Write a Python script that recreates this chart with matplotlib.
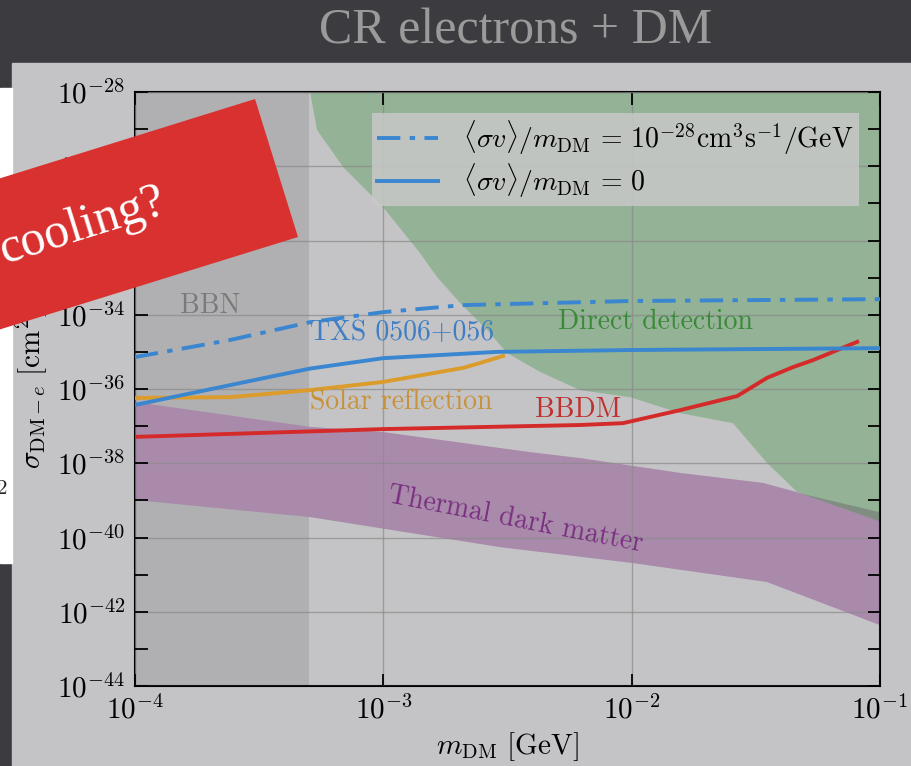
import numpy as np
import matplotlib
matplotlib.use("Agg")
import matplotlib.pyplot as plt
from matplotlib.patches import Rectangle, Polygon
from matplotlib.ticker import FixedLocator, NullLocator, NullFormatter, FuncFormatter

plt.rcParams["mathtext.fontset"] = "cm"

# ---- data (log10 of m_DM in GeV, log10 of sigma_DM-e in cm^2) ----
# Direct detection excluded region: lower boundary
dd_logm = [-3.295, -3.267, -3.162, -3.001, -2.852, -2.784, -2.691, -2.582, -2.502,
           -2.369, -2.208, -2.006, -1.805, -1.592, -1.455, -1.334, -1.0]
dd_logsig = [-28.0, -29.02, -30.02, -31.10, -32.34, -32.98, -33.68, -34.41, -35.03,
             -35.54, -36.03, -36.22, -36.65, -36.92, -37.99, -38.77, -39.56]

# Thermal dark matter band
thermal_up_logm = [-4.0, -3.295, -3.001, -2.409, -2.208, -1.805, -1.471, -1.322, -1.0]
thermal_up_logsig = [-36.35, -37.02, -37.16, -37.70, -37.86, -38.26, -38.53, -38.80, -39.31]
thermal_lo_logm = [-4.0, -3.295, -2.530, -1.994, -1.455, -1.0]
thermal_lo_logsig = [-38.99, -39.45, -40.26, -40.69, -41.20, -42.36]

# TXS 0506+056 bounds
txs_ann_logm = [-4.0, -3.617, -3.295, -3.001, -2.678, -2.006, -1.0]
txs_ann_logsig = [-35.14, -34.68, -34.20, -33.93, -33.74, -33.63, -33.58]
txs_zero_logm = [-4.0, -3.52, -3.295, -3.001, -2.542, -2.006, -1.0]
txs_zero_logsig = [-36.43, -35.76, -35.45, -35.17, -35.00, -34.95, -34.90]

# Solar reflection
solar_logm = [-4.0, -3.617, -3.295, -3.001, -2.678, -2.611, -2.518]
solar_logsig = [-36.24, -36.22, -36.03, -35.81, -35.43, -35.30, -35.11]

# BBDM
bbdm_logm = [-4.0, -3.0, -2.208, -2.035, -1.805, -1.575, -1.455, -1.350, -1.269, -1.092]
bbdm_logsig = [-37.29, -37.08, -36.97, -36.92, -36.57, -36.19, -35.70, -35.41, -35.22, -34.73]

# BBN lower mass bound [GeV]
bbn_mass = 5.0e-4

legend_labels = [
    r"$\langle\sigma v\rangle/m_{\rm DM}\,=\,10^{-28}{\rm cm}^3{\rm s}^{-1}/{\rm GeV}$",
    r"$\langle\sigma v\rangle/m_{\rm DM}\,=\,0$",
]


def p(v):
    return 10.0 ** np.asarray(v, dtype=float)


# ---- colours ----
dark_bg = "#3c3c40"
panel = "#c4c4c6"
bbn_col = "#b0b0b2"
green = "#94b295"
purple = "#a98aab"
overlap = "#808e82"
blue = "#3a86d0"
orange = "#dc9c2c"
red = "#d42a2a"

W, H = 912, 766
fig = plt.figure(figsize=(W / 100, H / 100), dpi=100, facecolor=dark_bg)

# slide background layer (pixel coordinates)
bg = fig.add_axes([0, 0, 1, 1], zorder=-10)
bg.set_xlim(0, W)
bg.set_ylim(H, 0)
bg.axis("off")
bg.add_patch(Rectangle((0, 0), W, H, color=dark_bg))
bg.add_patch(Rectangle((12, 63), W - 12, H - 63, color=panel))
bg.add_patch(Rectangle((0, 88), 12, 475, color="white"))
bg.text(7, 489, "2", ha="right", va="center", fontsize=15, family="cmr10", color="#222222")

fig.text(516 / W, 1 - 31 / H, "CR electrons + DM", ha="center", va="center",
         fontsize=36, family="Liberation Serif", color="#9a9a9a")

# ---- main chart ----
ax = fig.add_axes([135 / W, 1 - 686 / H, 745 / W, 594 / H], zorder=0)
ax.set_facecolor(panel)
ax.set_xscale("log")
ax.set_yscale("log")
ax.set_xlim(1e-4, 1e-1)
ax.set_ylim(1e-44, 1e-28)

ax.axvspan(1e-4, bbn_mass, color=bbn_col, lw=0, zorder=0.5)

# thermal band
band_x = np.concatenate([p(thermal_up_logm), p(thermal_lo_logm)[::-1]])
band_y = np.concatenate([p(thermal_up_logsig), p(thermal_lo_logsig)[::-1]])
ax.fill(band_x, band_y, color=purple, lw=0, zorder=1)

# direct detection region
dd_x = np.concatenate([p(dd_logm), [1e-1]])
dd_y = np.concatenate([p(dd_logsig), [1e-28]])
ax.fill(dd_x, dd_y, color=green, lw=0, zorder=1)

# darker overlap between direct detection and thermal band
gx = np.linspace(-1.6, -1.0, 200)
g_dd = np.interp(gx, dd_logm, dd_logsig)
g_up = np.interp(gx, thermal_up_logm, thermal_up_logsig)
ax.fill_between(10 ** gx, 10 ** g_dd, 10 ** g_up, where=g_dd < g_up,
                color=overlap, lw=0, zorder=1.1, interpolate=True)

ax.set_axisbelow(False)
ax.grid(True, which="major", color="#8a8a8a", lw=1.0, alpha=0.7)

lw = 2.8
ax.plot(p(solar_logm), p(solar_logsig), color=orange, lw=lw, zorder=3)
ax.plot(p(bbdm_logm), p(bbdm_logsig), color=red, lw=lw, zorder=3)
ax.plot(p(txs_ann_logm), p(txs_ann_logsig), color=blue, lw=lw, zorder=3,
        dashes=(6, 2.4, 1.4, 2.4), label=legend_labels[0])
ax.plot(p(txs_zero_logm), p(txs_zero_logsig), color=blue, lw=lw, zorder=3,
        label=legend_labels[1])

# region labels
lab = dict(transform=ax.transAxes, fontsize=20, family="cmr10", zorder=4)
ax.text(0.1007, 0.640, "BBN", ha="center", va="center", color="#7a7a7a", **lab)
ax.text(0.2349, 0.594, "TXS 0506+056", ha="left", va="center", color="#3f7ec4", **lab)
ax.text(0.5678, 0.613, "Direct detection", ha="left", va="center", color="#3a8a3a", **lab)
ax.text(0.2349, 0.477, "Solar reflection", ha="left", va="center", color="#c8923a", **lab)
ax.text(0.5369, 0.4646, "BBDM", ha="left", va="center", color="#c03030", **lab)
ax.text(0.510, 0.2795, "Thermal dark matter", ha="center", va="center",
        rotation=-11, rotation_mode="anchor", color="#7a2f80", **lab)

# axes, ticks
pow_fmt = FuncFormatter(lambda v, pos: r"$10^{%d}$" % int(round(np.log10(v))))
ax.xaxis.set_major_locator(FixedLocator([1e-4, 1e-3, 1e-2, 1e-1]))
ax.xaxis.set_minor_locator(NullLocator())
ax.xaxis.set_major_formatter(pow_fmt)
ax.yaxis.set_major_locator(FixedLocator([10.0 ** e for e in range(-44, -27, 2)]))
ax.yaxis.set_minor_locator(FixedLocator([10.0 ** e for e in range(-43, -28, 2)]))
ax.yaxis.set_major_formatter(pow_fmt)
ax.yaxis.set_minor_formatter(NullFormatter())
ax.tick_params(which="both", direction="in", top=True, right=True, length=9,
               width=1.3, labelsize=21, colors="black")
ax.tick_params(axis="y", pad=7)
ax.tick_params(axis="x", pad=7)
for s in ax.spines.values():
    s.set_linewidth(1.5)
    s.set_color("black")

ax.set_xlabel(r"$m_{\rm DM}\ [{\rm GeV}]$", fontsize=21, labelpad=4)
ax.set_ylabel(r"$\sigma_{{\rm DM}-e}\ [{\rm cm}^2]$", fontsize=21, labelpad=6)

leg = ax.legend(loc="upper right", fontsize=20, frameon=True, fancybox=False,
                facecolor="#c8c8c8", edgecolor="none", framealpha=0.85,
                handlelength=2.2, handletextpad=0.9, labelspacing=0.15,
                borderpad=0.2, borderaxespad=0.75)
leg.set_zorder(5)

# ---- red banner overlay ----
ov = fig.add_axes([0, 0, 1, 1], zorder=10)
ov.set_xlim(0, W)
ov.set_ylim(H, 0)
ov.axis("off")
ov.patch.set_alpha(0)
ov.add_patch(Polygon([(255, 99), (298, 237), (-60, 348), (-60, 197)],
                     closed=True, color="#d93030", lw=0))
ov.text(0, 252, "cooling?", ha="left", va="center", rotation=17.3,
        rotation_mode="anchor", fontsize=36, family="Liberation Serif", color="white")

fig.savefig("out.png", dpi=100, facecolor=dark_bg)
